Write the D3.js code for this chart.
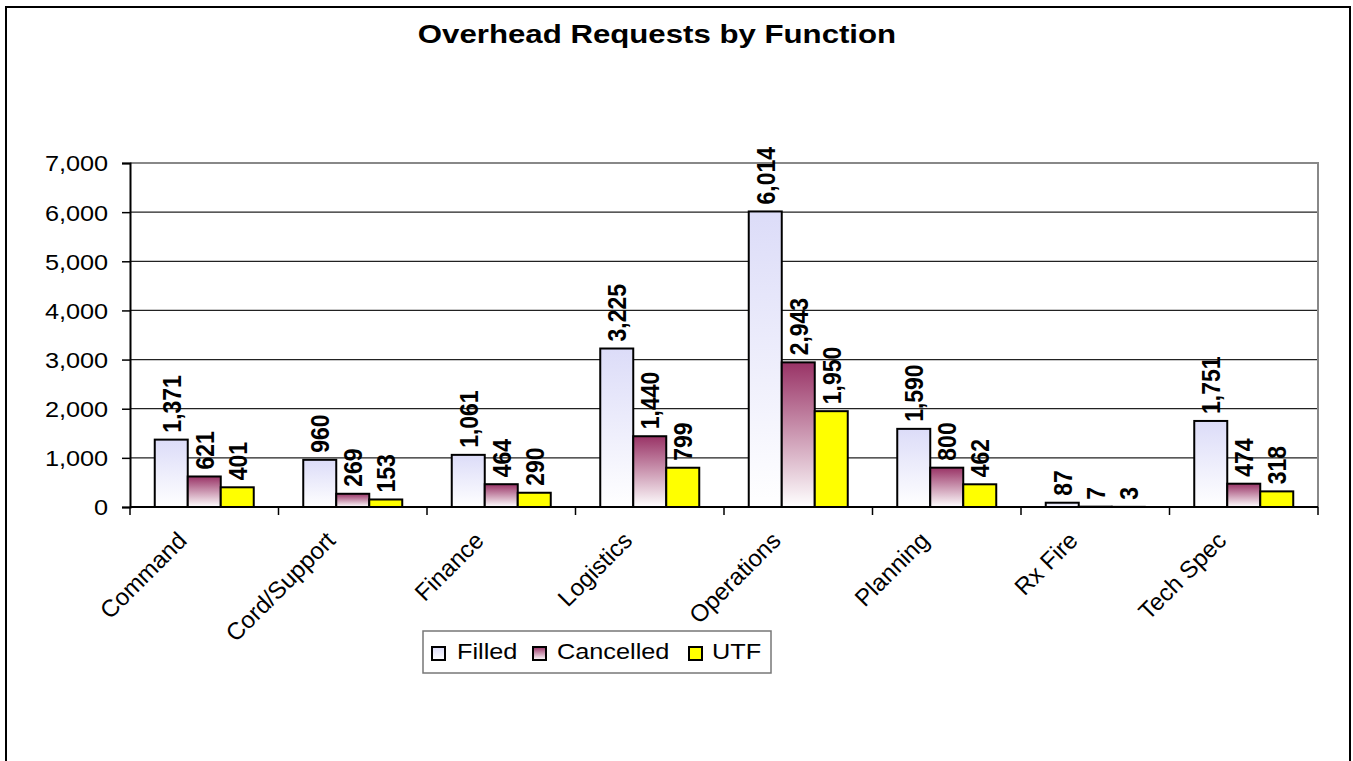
<!DOCTYPE html>
<html>
<head>
<meta charset="utf-8">
<script src="https://cdn.jsdelivr.net/npm/d3@7"></script>
<style>
  body { margin: 0; background: #fff; }
  text { font-family: Arial, "Liberation Sans", sans-serif; }
</style>
</head>
<body>
<div id="chart"></div>
<script>
// data
var categories = ["Command", "Cord/Support", "Finance", "Logistics", "Operations", "Planning", "Rx Fire", "Tech Spec"];
var seriesNames = ["Filled", "Cancelled", "UTF"];
var filled = [1371, 960, 1061, 3225, 6014, 1590, 87, 1751];
var cancelled = [621, 269, 464, 1440, 2943, 800, 7, 474];
var utf = [401, 153, 290, 799, 1950, 462, 3, 318];
var yTicks = [0, 1000, 2000, 3000, 4000, 5000, 6000, 7000];

var W = 1353, H = 761;
var plot = {left: 130, right: 1318, top: 163, bottom: 507};
// the original picture is stretched a little sideways
var sx = 1.15;

var svg = d3.select("#chart").append("svg")
    .attr("width", W)
    .attr("height", H);

var defs = svg.append("defs");
function grad(id, top, bottom) {
  var g = defs.append("linearGradient").attr("id", id)
      .attr("x1", 0).attr("y1", 0).attr("x2", 0).attr("y2", 1);
  g.append("stop").attr("offset", "0%").attr("stop-color", top);
  g.append("stop").attr("offset", "100%").attr("stop-color", bottom);
}
grad("gFilled", "#dcdcf8", "#ffffff");
grad("gCancelled", "#993366", "#ffffff");
var fills = ["url(#gFilled)", "url(#gCancelled)", "#ffff00"];

// outer chart frame
svg.append("rect")
    .attr("x", 6).attr("y", 7)
    .attr("width", 1344).attr("height", 770)
    .attr("fill", "none").attr("stroke", "#000").attr("stroke-width", 2);

svg.append("text")
    .attr("transform", "translate(657,43) scale(1.2,1)")
    .attr("text-anchor", "middle")
    .style("font-size", "26px").style("font-weight", "bold")
    .text("Overhead Requests by Function");

var x0 = d3.scaleBand()
    .domain(categories)
    .range([plot.left, plot.right])
    .paddingInner(0).paddingOuter(0);

// three bars take 3/4.5 of a category, gap width 50%
var bw = x0.bandwidth() / 4.5;
var x1 = d3.scaleBand()
    .domain(seriesNames)
    .range([bw * 0.75, bw * 3.75])
    .padding(0);

var y = d3.scaleLinear()
    .domain([0, 7000])
    .range([plot.bottom, plot.top]);

// gridlines
svg.append("g").selectAll("line")
    .data(yTicks.filter(function(d) { return d > 0 && d < 7000; }))
  .enter().append("line")
    .attr("x1", plot.left).attr("x2", plot.right)
    .attr("y1", function(d) { return y(d); })
    .attr("y2", function(d) { return y(d); })
    .attr("stroke", "#222").attr("stroke-width", 1.3);

// plot area border (top / right)
svg.append("path")
    .attr("d", "M" + plot.left + "," + plot.top + "H" + plot.right + "V" + plot.bottom)
    .attr("fill", "none").attr("stroke", "#888").attr("stroke-width", 2);

var seriesData = [filled, cancelled, utf];

var groups = svg.append("g").selectAll("g")
    .data(categories)
  .enter().append("g")
    .attr("transform", function(d) { return "translate(" + x0(d) + ",0)"; });

function rows(d, i) {
  return seriesNames.map(function(s, j) { return {s: s, j: j, v: seriesData[j][i]}; });
}

groups.selectAll("rect")
    .data(rows)
  .enter().append("rect")
    .attr("x", function(d) { return x1(d.s); })
    .attr("width", x1.bandwidth())
    .attr("y", function(d) { return y(d.v); })
    .attr("height", function(d) { return y(0) - y(d.v); })
    .attr("fill", function(d) { return fills[d.j]; })
    .attr("stroke", "#000").attr("stroke-width", 2);

groups.selectAll("text.val")
    .data(rows)
  .enter().append("text")
    .attr("class", "val")
    .attr("transform", function(d) {
      return "translate(" + (x1(d.s) + x1.bandwidth() / 2) + "," + (y(d.v) - 7) + ") scale(" + sx + ",1) rotate(-90)";
    })
    .attr("dy", "0.36em")
    .style("font-size", "23px").style("font-weight", "bold")
    .text(function(d) { return d3.format(",")(d.v); });

// y axis
var yAxis = d3.axisLeft(y).tickValues(yTicks).tickFormat(d3.format(",")).tickSizeOuter(0).tickSize(8);
var ya = svg.append("g")
    .attr("transform", "translate(" + plot.left + ",0)")
    .call(yAxis);
ya.select(".domain").attr("stroke", "#000").attr("stroke-width", 2);
ya.selectAll(".tick line").attr("stroke", "#000").attr("stroke-width", 1.5);
ya.selectAll(".tick text")
    .attr("x", -19).attr("dy", "0.36em")
    .attr("transform", "scale(" + sx + ",1)")
    .style("font-size", "22px").attr("fill", "#000");

// x axis line and ticks
svg.append("line")
    .attr("x1", plot.left).attr("x2", plot.right)
    .attr("y1", plot.bottom).attr("y2", plot.bottom)
    .attr("stroke", "#000").attr("stroke-width", 2);
svg.append("g").selectAll("line")
    .data(d3.range(categories.length + 1))
  .enter().append("line")
    .attr("x1", function(i) { return plot.left + i * x0.bandwidth(); })
    .attr("x2", function(i) { return plot.left + i * x0.bandwidth(); })
    .attr("y1", plot.bottom).attr("y2", plot.bottom + 8)
    .attr("stroke", "#000").attr("stroke-width", 1.5);

svg.append("g").selectAll("text")
    .data(categories)
  .enter().append("text")
    .attr("transform", function(d) {
      return "translate(" + (x0(d) + x0.bandwidth() / 2 - 16) + "," + (plot.bottom + 35) + ") rotate(-45)";
    })
    .attr("text-anchor", "end")
    .style("font-size", "24px")
    .text(function(d) { return d; });

// legend
var legend = svg.append("g");
legend.append("rect")
    .attr("x", 423).attr("y", 631).attr("width", 348).attr("height", 42)
    .attr("fill", "#fff").attr("stroke", "#777").attr("stroke-width", 1.5);
var legX = [432, 533, 689];
var legTextX = [457, 557, 712];
seriesNames.forEach(function(s, j) {
  legend.append("rect")
      .attr("x", legX[j]).attr("y", 647).attr("width", 13).attr("height", 13)
      .attr("fill", fills[j]).attr("stroke", "#000").attr("stroke-width", 2);
  legend.append("text")
      .attr("transform", "translate(" + legTextX[j] + ",659) scale(" + sx + ",1)")
      .style("font-size", "22px")
      .text(s);
});
</script>
</body>
</html>
